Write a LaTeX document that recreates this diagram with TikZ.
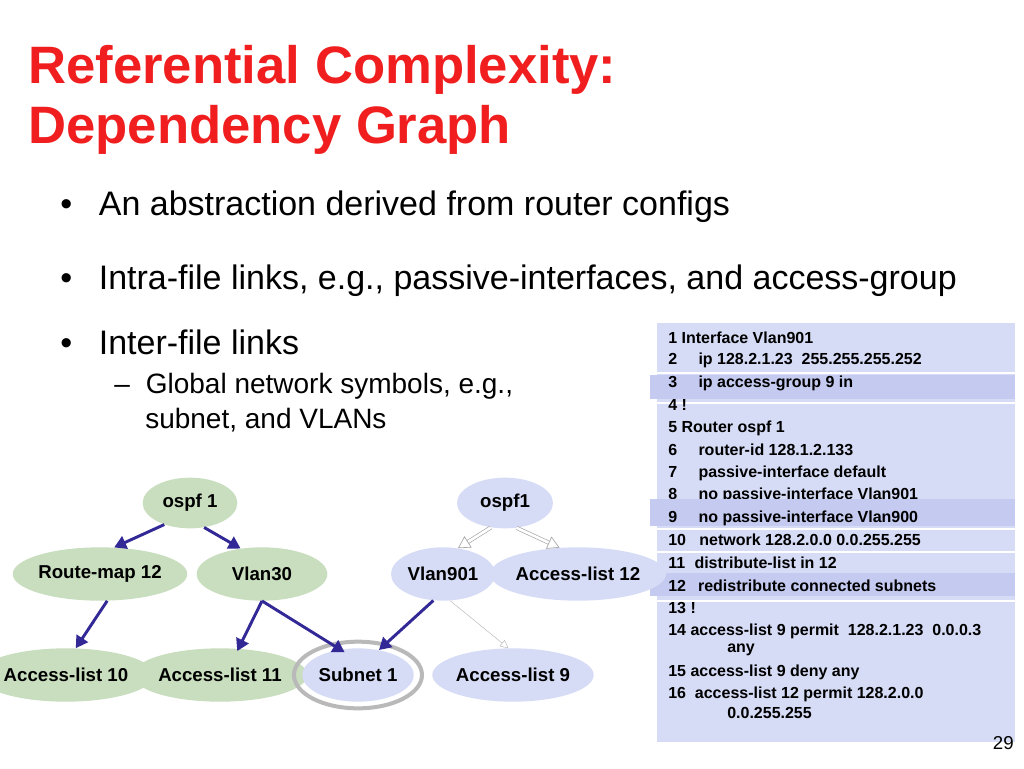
\documentclass[tikz,border=0pt]{standalone}
\usepackage{fontspec}
\setmainfont{Liberation Sans}
\usetikzlibrary{arrows.meta,shapes.geometric}
\definecolor{ttl}{RGB}{240,30,30}
\definecolor{gfill}{RGB}{200,222,190}
\definecolor{bfill}{RGB}{214,220,246}
\definecolor{band}{RGB}{196,202,240}
\definecolor{arr}{RGB}{50,40,150}
\tikzset{
 gn/.style={ellipse,fill=gfill,inner sep=0pt,font=\bfseries\fontsize{14}{16}\selectfont},
 bn/.style={ellipse,fill=bfill,inner sep=0pt,font=\bfseries\fontsize{14}{16}\selectfont},
 ba/.style={draw=arr,line width=2.2pt,-{Triangle[length=9pt,width=10pt]}},
 ha/.style={draw=gray!70,double=white,double distance=2pt,line width=0.5pt,-{Triangle[open,length=9pt,width=10pt]}},
 code/.style={anchor=west,inner sep=0pt,font=\bfseries\fontsize{12}{14}\selectfont},
}
\begin{document}
\begin{tikzpicture}[x=0.75pt,y=-0.75pt]
\useasboundingbox (0,0) rectangle (1024,768);
\fill[white] (0,0) rectangle (1024,768);
\node[anchor=west,text=ttl,font=\bfseries\fontsize{39.5}{46}\selectfont,inner sep=0pt] (t1) at (28,70) {Referential Complexity:};
\node[anchor=west,text=ttl,font=\bfseries\fontsize{39.5}{46}\selectfont,inner sep=0pt] (t2) at (28,130) {Dependency Graph};
\tikzset{bul/.style={anchor=west,inner sep=0pt,font=\fontsize{25.5}{28}\selectfont}}
\node[bul] (b1) at (60,207) {•\hspace{20pt}An abstraction derived from router configs};
\node[bul] (b2) at (60,281) {•\hspace{20pt}Intra-file links, e.g., passive-interfaces, and access-group};
\node[bul] (b3) at (60,342) {•\hspace{20pt}Inter-file links};
\node[anchor=west,inner sep=0pt,font=\fontsize{21}{24}\selectfont] (s1) at (114,386) {–\hspace{12pt}Global network symbols, e.g.,};
\node[anchor=west,inner sep=0pt,font=\fontsize{21}{24}\selectfont] (s2) at (145,420) {subnet, and VLANs};
% code box
\fill[bfill] (657,323) rectangle (1015,742);
\foreach \y in {372,402,528,551,600}{\fill[white] (657,\y) rectangle (1015,\y+1.5);}
\node[code] (c1) at (668,338) {1 Interface Vlan901};
\node[code] (c2) at (668,360) {2\hspace{16pt}ip 128.2.1.23\ \ 255.255.255.252};
\node[code] (c4) at (668,405) {4 !};
\node[code] (c5) at (668,428) {5 Router ospf 1};
\node[code] (c6) at (668,450) {6\hspace{16pt}router-id 128.1.2.133};
\node[code] (c7) at (668,473) {7\hspace{16pt}passive-interface default};
\node[code] (c8) at (668,495) {8\hspace{16pt}no passive-interface Vlan901};
\fill[band] (650,375) rectangle (1015,399);
\fill[band] (650,499) rectangle (1015,526);
\fill[band] (650,573) rectangle (1015,596);
\node[code] (c3) at (668,383) {3\hspace{16pt}ip access-group 9 in};
\node[code] (c9) at (668,518) {9\hspace{16pt}no passive-interface Vlan900};
\node[code] (c10) at (668,540) {10\hspace{10pt}network 128.2.0.0 0.0.255.255};
\node[code] (c11) at (668,563) {11\hspace{7pt}distribute-list in 12};
\node[code] (c12) at (668,586) {12\hspace{9pt}redistribute connected subnets};
\node[code] (c13) at (668,608) {13 !};
\node[code] (c14) at (668,631) {14 access-list 9 permit\ \ 128.2.1.23\ \ 0.0.0.3};
\node[code] (c14b) at (727,650) {any};
\node[code] (c15) at (668,672) {15 access-list 9 deny any};
\node[code] (c16) at (668,694) {16\ \ access-list 12 permit 128.2.0.0};
\node[code] (c16b) at (727,713) {0.0.255.255};
\node[anchor=east,inner sep=0pt,font=\fontsize{14}{16}\selectfont] (pg) at (1014,743) {29};
% graph
\node[gn,minimum width=71pt,minimum height=38pt] (o1) at (190,503) {ospf 1};
\node[gn,minimum width=112pt,minimum height=40pt] (rm) at (100,574) {Route-map 12};
\node[gn,minimum width=98pt,minimum height=40pt] (v30) at (262,574) {Vlan30};
\node[gn,minimum width=105pt,minimum height=40pt] (a10) at (66,675) {Access-list 10};
\node[gn,minimum width=105pt,minimum height=40pt] (a11) at (220,675) {Access-list 11};
\node[bn,minimum width=72pt,minimum height=38pt] (o2) at (505,503) {ospf1};
\node[bn,minimum width=78pt,minimum height=40pt] (v901) at (443,574) {Vlan901};
\node[bn,minimum width=105pt,minimum height=40pt] (a12) at (578,574) {Access-list 12};
\node[bn,minimum width=98pt,minimum height=40pt] (a9) at (513,675) {Access-list 9};
\node[bn,minimum width=80pt,minimum height=40pt] (sn) at (358,675) {Subnet 1};
\draw[gray!55,line width=3pt] (sn.center) ellipse (48pt and 25pt);
\draw[ba] (o1.220) -- (rm.62);
\draw[ba] (o1.300) -- (v30.130);
\draw[ba] (rm.285) -- (a10.70);
\draw[ba,shorten >=-2pt] (v30.270) -- (a11.55);
\draw[ba,shorten >=-4pt] (v30.270) -- (sn.125);
\draw[ba] (v901.250) -- (sn.50);
\draw[ha] (o2.240) -- (v901.60);
\draw[ha] (o2.295) -- (a12.125);
\draw[gray!60,line width=0.3pt,-{Triangle[open,length=6pt,width=6pt]}] (v901.285) -- (a9.100);
\end{tikzpicture}
\end{document}
